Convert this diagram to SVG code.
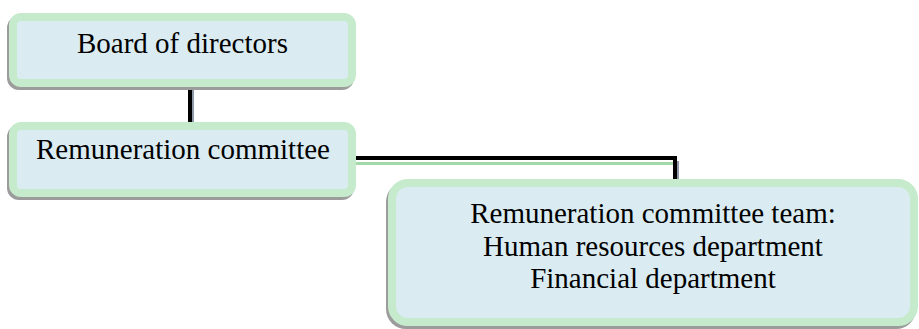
<svg xmlns="http://www.w3.org/2000/svg" width="919" height="329" viewBox="0 0 919 329">
<style>
.shadow{fill:#9c9c9c}
.box{fill:#daecf2;stroke:#c6ebcc;stroke-width:8}
.t{font-family:"Liberation Serif","Times New Roman",serif;font-size:29px;fill:#000;text-anchor:middle}
.ln{stroke:#000;stroke-width:4;fill:none}
.ls{stroke:#8e9aa8;stroke-width:2;fill:none}
.lg{stroke:#a3d9a8;stroke-width:3;fill:none}
</style>
<g id="connectors">
  <line class="ls" x1="193" y1="87" x2="193" y2="122"/>
  <line class="ln" x1="190" y1="87" x2="190" y2="122"/>
  <line class="lg" x1="356" y1="163.5" x2="676" y2="163.5"/>
  <line class="ls" x1="678" y1="161" x2="678" y2="180"/>
  <path class="ln" d="M353,158 H675 V180"/>
</g>
<g id="board">
  <rect class="shadow" x="7" y="16" width="347" height="74" rx="12"/>
  <rect class="box" x="13" y="17" width="339" height="66" rx="8"/>
  <text class="t" x="182.5" y="53">Board of directors</text>
</g>
<g id="remuneration-committee">
  <rect class="shadow" x="7" y="125" width="347" height="75" rx="12"/>
  <rect class="box" x="13" y="126" width="339" height="67" rx="8"/>
  <text class="t" x="183" y="159">Remuneration committee</text>
</g>
<g id="committee-team">
  <rect class="shadow" x="386" y="182" width="530" height="147" rx="20"/>
  <rect class="box" x="392" y="183" width="522" height="139" rx="16"/>
  <text class="t" x="653" y="223">Remuneration committee team:</text>
  <text class="t" x="653" y="256">Human resources department</text>
  <text class="t" x="653" y="288">Financial department</text>
</g>
</svg>
